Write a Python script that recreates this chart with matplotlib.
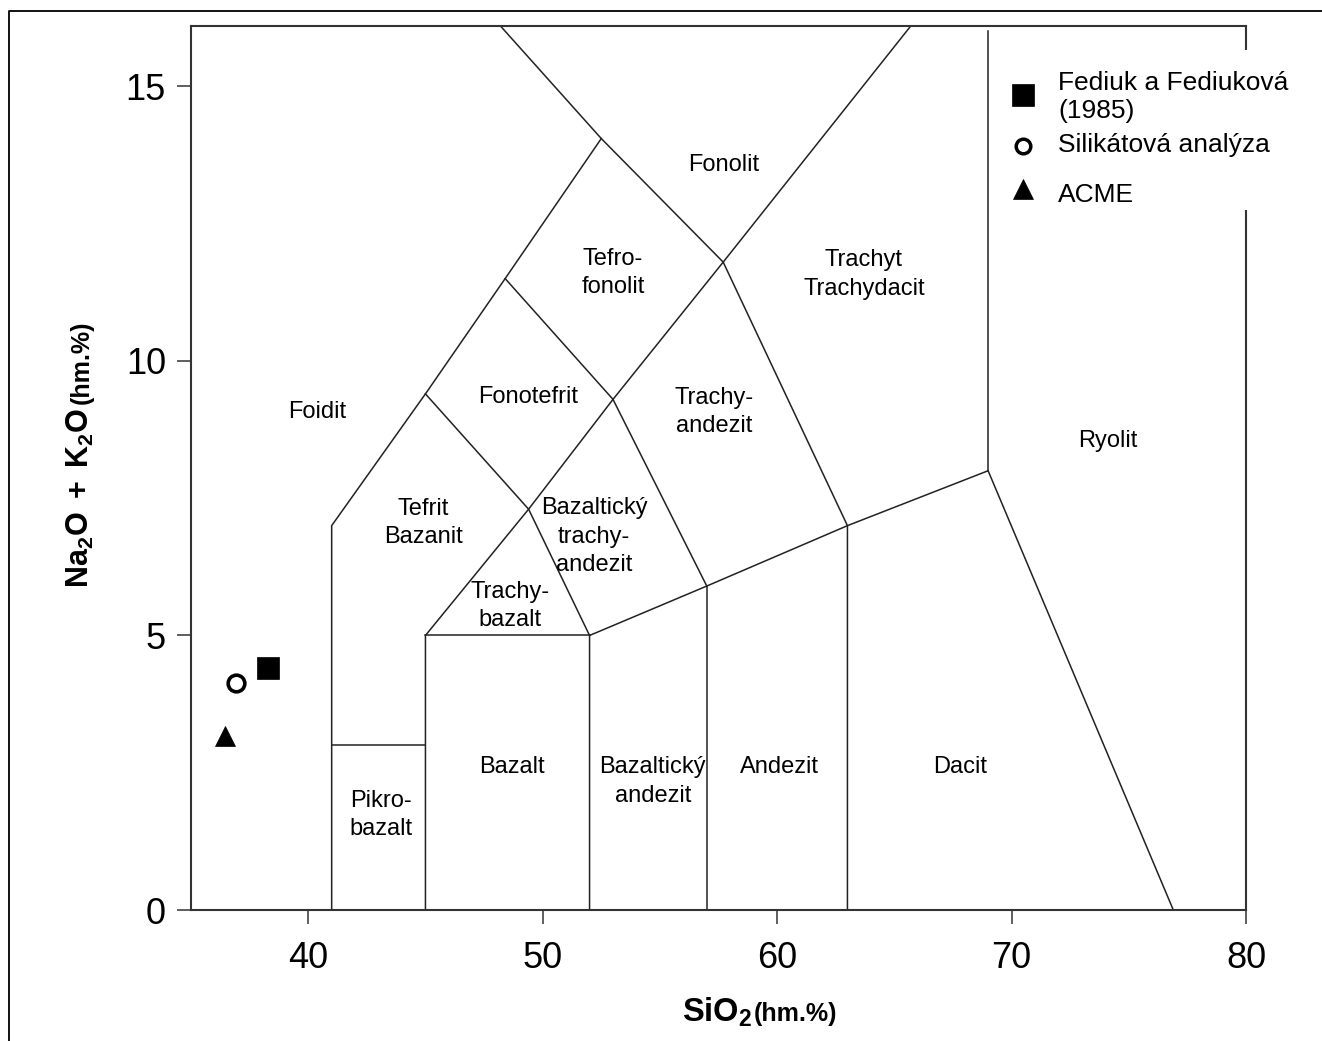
import numpy as np
import matplotlib
matplotlib.use("Agg")
import matplotlib.pyplot as plt
from matplotlib.patches import Rectangle
from matplotlib.lines import Line2D

plt.rcParams["font.family"] = ["Liberation Sans", "DejaVu Sans"]
plt.rcParams["mathtext.fontset"] = "custom"
plt.rcParams["mathtext.rm"] = "Liberation Sans"
plt.rcParams["mathtext.bf"] = "Liberation Sans:bold"
plt.rcParams["mathtext.it"] = "Liberation Sans:italic"

# Data: TAS field boundaries (SiO2, Na2O + K2O)

foiditX = [41, 41, 45, 48.4, 52.5, 48.2]
foiditY = [0, 7, 9.4, 11.5, 14.05, 16.1]

fonolitX = [52.5, 57.7, 65.7]
fonolitY = [14.05, 11.8, 16.1]

tefritX = [45, 49.4, 52]
tefritY = [9.4, 7.3, 5]

trachyBazaltX = [45, 45, 49.4, 53, 57.7]
trachyBazaltY = [0, 5, 7.3, 9.3, 11.8]

fonotefritX = [48.4, 53, 57]
fonotefritY = [11.5, 9.3, 5.9]

subalkaliX = [52, 52, 57, 63, 69, 76.9]
subalkaliY = [0, 5, 5.9, 7, 8, 0]

bazaltTopX = [45, 52]
bazaltTopY = [5, 5]

pikroTopX = [41, 45]
pikroTopY = [3, 3]

andezitX = [57, 57]
andezitY = [0, 5.9]

trachytX = [63, 63, 57.7]
trachytY = [0, 7, 11.8]

ryolitX = [69, 69]
ryolitY = [8, 16]

boundaries = [
    (foiditX, foiditY), (fonolitX, fonolitY), (tefritX, tefritY),
    (trachyBazaltX, trachyBazaltY), (fonotefritX, fonotefritY),
    (subalkaliX, subalkaliY), (bazaltTopX, bazaltTopY),
    (pikroTopX, pikroTopY), (andezitX, andezitY),
    (trachytX, trachytY), (ryolitX, ryolitY),
]

# Field names
fieldNames = ["Fonolit", "Tefro-\nfonolit", "Trachyt\nTrachydacit", "Foidit",
              "Fonotefrit", "Trachy-\nandezit", "Ryolit", "Tefrit\nBazanit",
              "Bazaltický\ntrachy-\nandezit", "Trachy-\nbazalt", "Bazalt",
              "Bazaltický\nandezit", "Andezit", "Dacit", "Pikro-\nbazalt"]
fieldX = [57.7, 53.0, 63.7, 40.4, 49.4, 57.3, 74.1, 44.9,
          52.2, 48.6, 48.7, 54.7, 60.1, 67.8, 43.1]
fieldY = [13.56, 11.6, 11.57, 9.07, 9.34, 9.07, 8.55, 7.05,
          6.8, 5.54, 2.6, 2.34, 2.6, 2.6, 1.73]

# Samples
sampleNames = ["Fediuk a Fediuková\n(1985)", "Silikátová analýza", "ACME"]
sampleSiO2 = [38.30, 36.93, 36.45]
sampleAlk = [4.40, 4.14, 3.17]

# Figure

fig = plt.figure(figsize=(13.22, 10.41), dpi=100)
ax = fig.add_axes([191 / 1322, 1 - 910 / 1041, 1055 / 1322, 884 / 1041])

for bx, by in boundaries:
    ax.plot(bx, by, color="#222222", lw=1.1, solid_joinstyle="miter", zorder=2)

for name, fx, fy in zip(fieldNames, fieldX, fieldY):
    ax.text(fx, fy, name, fontsize=17, ha="center", va="center", linespacing=1.38)

styles = [
    dict(marker="s", ms=16, mfc="black", mec="black", mew=0.5),
    dict(marker="o", ms=12, mfc="white", mec="black", mew=2.6),
    dict(marker="^", ms=14.5, mfc="black", mec="black", mew=0.5),
]
for sx, sy, st in zip(sampleSiO2, sampleAlk, styles):
    ax.plot(sx, sy, ls="none", zorder=4, clip_on=False, **st)

ax.set_xlim(35, 80)
ax.set_ylim(0, 16.1)
ax.set_xticks([40, 50, 60, 70, 80])
ax.set_yticks([0, 5, 10, 15])
ax.tick_params(direction="out", length=10, width=1.1, color="#333333",
               labelsize=26, pad=8)
ax.tick_params(axis="x", pad=12)
for sp in ax.spines.values():
    sp.set_color("#333333")
    sp.set_linewidth(1.5)

# Legend (white box over the right spine)
ax.add_patch(Rectangle((0.765, 0.792), 0.3, 0.181, transform=ax.transAxes,
                       facecolor="white", edgecolor="none", zorder=3, clip_on=False))
keyY = [0.9214, 0.8643, 0.8156]
textY = [0.8959, 0.8575, 0.8009]
legendStyles = [
    dict(marker="s", ms=16, mfc="black", mec="black", mew=0.5),
    dict(marker="o", ms=10.5, mfc="white", mec="black", mew=2.5),
    dict(marker="^", ms=14.5, mfc="black", mec="black", mew=0.5),
]
for name, ky, ty, st in zip(sampleNames, keyY, textY, legendStyles):
    ax.plot([0.7886], [ky], transform=ax.transAxes, ls="none", zorder=4,
            clip_on=False, **st)
    ax.text(0.8218, ty, name, transform=ax.transAxes, fontsize=19,
            ha="left", va="baseline", zorder=4, linespacing=1.22)

# Axis labels: bold main part + smaller "(hm.%)"
xMain = fig.text(682 / 1322, 1 - 1021.5 / 1041, r"$\mathbf{SiO_2}$",
                 fontsize=23.5, ha="left", va="baseline")
yMain = fig.text(89 / 1322, 1 - 588 / 1041, r"$\mathbf{Na_2O\ +\ K_2O}$",
                 fontsize=22, ha="left", va="baseline", rotation=90,
                 rotation_mode="anchor")
fig.canvas.draw()
inv = fig.transFigure.inverted()
xb = xMain.get_window_extent().transformed(inv)
yb = yMain.get_window_extent().transformed(inv)
fig.text(xb.x1 + 1 / 1322, 1 - 1021.5 / 1041, "(hm.%)", fontsize=18,
         fontweight="bold", ha="left", va="baseline")
fig.text(89 / 1322, yb.y1 + 4 / 1041, "(hm.%)", fontsize=18,
         fontweight="bold", ha="left", va="baseline", rotation=90,
         rotation_mode="anchor")

# Outer frame (left and top edges)
fig.add_artist(Line2D([9 / 1322, 9 / 1322, 1.0], [0.0, 1 - 11 / 1041, 1 - 11 / 1041],
                      transform=fig.transFigure, color="black", lw=1.3))

fig.savefig("out.png", dpi=100)
plt.close()
print("saved out.png")
